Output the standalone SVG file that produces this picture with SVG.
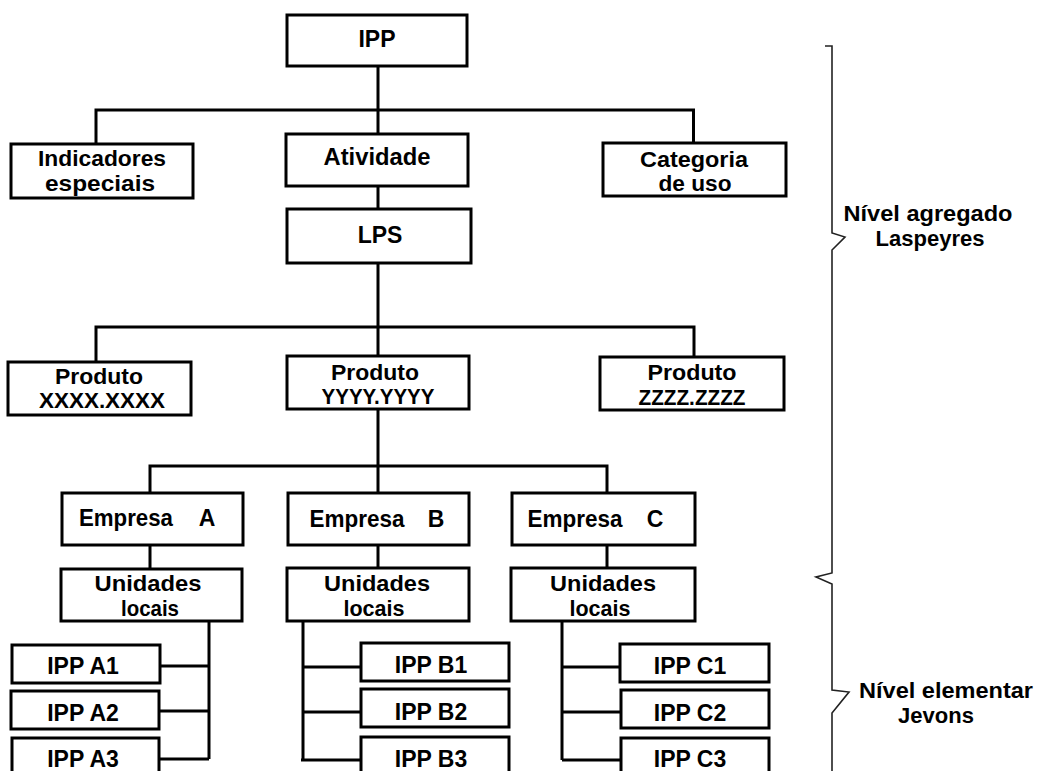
<svg xmlns="http://www.w3.org/2000/svg" width="1037" height="771" viewBox="0 0 1037 771">
<style>
.box{fill:#fff;stroke:#000;stroke-width:3}
.t{font-family:"Liberation Sans",Arial,Helvetica,sans-serif;font-weight:bold;font-size:23px;fill:#000;text-anchor:middle}
.s{font-size:22px}
.c{fill:none;stroke:#000;stroke-width:3}
.br{fill:none;stroke:#222;stroke-width:1.6}
</style>
<rect width="1037" height="771" fill="#fff"/>
<g id="connectors">
<path class="c" d="M378,66V134M96,144V110H693.5V143M378,186V209M378,263V356M96,362V327H694V357M378,409V493M150,493V466H607V493M150,545V569M378,545V568M607,545V568"/>
<path class="c" d="M209,621V759M160,666H209M160,711H209M160,759H209"/>
<path class="c" d="M303,621V760M303,667H361M303,712H361M301,760H361"/>
<path class="c" d="M562,621V760M562,667H620M562,712H620M562,760H620"/>
</g>
<g id="brackets">
<path class="br" d="M825,46H832V233L845,237L832,250V573L816,577L832,584V690L849,692L832,713V771"/>
<text class="t s" x="928" y="221" textLength="169" lengthAdjust="spacingAndGlyphs">Nível agregado</text>
<text class="t s" x="930" y="246" textLength="109" lengthAdjust="spacingAndGlyphs">Laspeyres</text>
<text class="t s" x="946" y="698" textLength="174" lengthAdjust="spacingAndGlyphs">Nível elementar</text>
<text class="t s" x="936" y="723">Jevons</text>
</g>
<g id="n-ipp"><rect class="box" x="287" y="15" width="180" height="51"/><text class="t" x="377" y="47">IPP</text></g>
<g id="n-indicadores"><rect class="box" x="11" y="144" width="182" height="54"/><text class="t s" x="102" y="166" textLength="128" lengthAdjust="spacingAndGlyphs">Indicadores</text><text class="t s" x="100" y="191" textLength="110" lengthAdjust="spacingAndGlyphs">especiais</text></g>
<g id="n-atividade"><rect class="box" x="286" y="134" width="182" height="52"/><text class="t" x="377" y="165" textLength="107" lengthAdjust="spacingAndGlyphs">Atividade</text></g>
<g id="n-categoria"><rect class="box" x="603" y="143" width="183" height="53"/><text class="t s" x="694" y="167" textLength="108" lengthAdjust="spacingAndGlyphs">Categoria</text><text class="t s" x="695" y="191" textLength="73" lengthAdjust="spacingAndGlyphs">de uso</text></g>
<g id="n-lps"><rect class="box" x="287" y="209" width="184" height="54"/><text class="t" x="380" y="243">LPS</text></g>
<g id="n-produto-x"><rect class="box" x="8" y="362" width="183" height="53"/><text class="t s" x="99" y="384" textLength="88" lengthAdjust="spacingAndGlyphs">Produto</text><text class="t s" x="102" y="408" textLength="126" lengthAdjust="spacingAndGlyphs">XXXX.XXXX</text></g>
<g id="n-produto-y"><rect class="box" x="287" y="356" width="182" height="53"/><text class="t s" x="375" y="380" textLength="88" lengthAdjust="spacingAndGlyphs">Produto</text><text class="t s" x="378" y="404" textLength="113" lengthAdjust="spacingAndGlyphs">YYYY.YYYY</text></g>
<g id="n-produto-z"><rect class="box" x="600" y="357" width="184" height="53"/><text class="t s" x="692" y="380" textLength="89" lengthAdjust="spacingAndGlyphs">Produto</text><text class="t s" x="692" y="405" textLength="107" lengthAdjust="spacingAndGlyphs">ZZZZ.ZZZZ</text></g>
<g id="n-empresa-a"><rect class="box" x="62" y="493" width="181" height="52"/><text class="t" x="126" y="526" textLength="94" lengthAdjust="spacingAndGlyphs">Empresa</text><text class="t" x="207" y="526">A</text></g>
<g id="n-empresa-b"><rect class="box" x="288" y="493" width="181" height="52"/><text class="t" x="357" y="527" textLength="95" lengthAdjust="spacingAndGlyphs">Empresa</text><text class="t" x="436" y="527">B</text></g>
<g id="n-empresa-c"><rect class="box" x="512" y="493" width="183" height="52"/><text class="t" x="575" y="527" textLength="95" lengthAdjust="spacingAndGlyphs">Empresa</text><text class="t" x="655" y="527">C</text></g>
<g id="n-unidades-a"><rect class="box" x="61" y="569" width="181" height="52"/><text class="t s" x="148" y="591" textLength="107" lengthAdjust="spacingAndGlyphs">Unidades</text><text class="t s" x="150" y="616" textLength="58" lengthAdjust="spacingAndGlyphs">locais</text></g>
<g id="n-unidades-b"><rect class="box" x="287" y="568" width="182" height="53"/><text class="t s" x="377" y="591" textLength="106" lengthAdjust="spacingAndGlyphs">Unidades</text><text class="t s" x="374" y="616" textLength="61" lengthAdjust="spacingAndGlyphs">locais</text></g>
<g id="n-unidades-c"><rect class="box" x="511" y="568" width="184" height="53"/><text class="t s" x="603" y="591" textLength="106" lengthAdjust="spacingAndGlyphs">Unidades</text><text class="t s" x="600" y="616" textLength="61" lengthAdjust="spacingAndGlyphs">locais</text></g>
<g id="n-ipp-a1"><rect class="box" x="12" y="645" width="148" height="38"/><text class="t" x="83" y="674">IPP A1</text></g>
<g id="n-ipp-a2"><rect class="box" x="11" y="691" width="148" height="38"/><text class="t" x="83" y="721">IPP A2</text></g>
<g id="n-ipp-a3"><rect class="box" x="12" y="738" width="147" height="50"/><text class="t" x="83" y="767">IPP A3</text></g>
<g id="n-ipp-b1"><rect class="box" x="361" y="643" width="148" height="38"/><text class="t" x="431" y="673">IPP B1</text></g>
<g id="n-ipp-b2"><rect class="box" x="361" y="689" width="148" height="38"/><text class="t" x="431" y="720">IPP B2</text></g>
<g id="n-ipp-b3"><rect class="box" x="361" y="737" width="148" height="50"/><text class="t" x="431" y="767">IPP B3</text></g>
<g id="n-ipp-c1"><rect class="box" x="620" y="644" width="149" height="38"/><text class="t" x="690" y="674">IPP C1</text></g>
<g id="n-ipp-c2"><rect class="box" x="621" y="690" width="148" height="38"/><text class="t" x="690" y="721">IPP C2</text></g>
<g id="n-ipp-c3"><rect class="box" x="621" y="738" width="148" height="50"/><text class="t" x="690" y="767">IPP C3</text></g>
</svg>
